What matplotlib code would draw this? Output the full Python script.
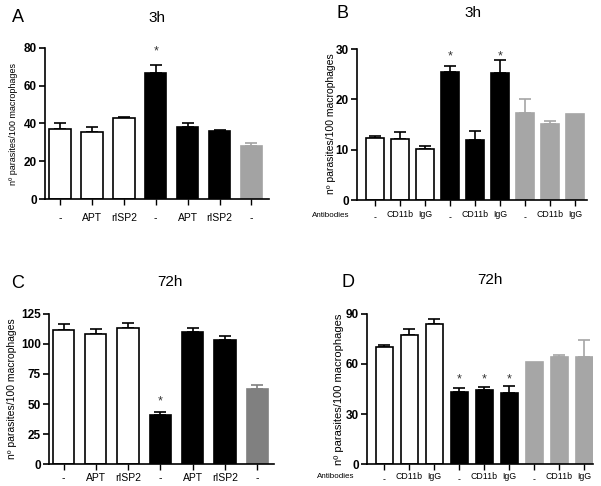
import matplotlib.pyplot as plt
import numpy as np

plt.rcParams['font.family'] = ['Liberation Sans', 'DejaVu Sans']

# Panel A: 3h, treatments
A_LABELS = ['-', 'APT', 'rISP2', '-', 'APT', 'rISP2', '-']
A_VALUES = [37, 35.5, 43, 67, 38, 36, 28]
A_ERR = [3.2, 2.6, 0.5, 4.0, 2.2, 0.5, 1.6]
A_COLORS = ['white', 'white', 'white', 'black', 'black', 'black', '#a3a3a3']
A_STARS = [3]

# Panel B: 3h, antibodies
B_LABELS = ['-', 'CD11b', 'IgG'] * 3
B_VALUES = [12.4, 12.2, 10.2, 25.5, 11.9, 25.3, 17.3, 15.1, 17.0]
B_ERR = [0.4, 1.4, 0.6, 1.1, 1.9, 2.5, 2.7, 0.5, 0.0]
B_COLORS = ['white'] * 3 + ['black'] * 3 + ['#a6a6a6'] * 3
B_STARS = [3, 5]

# Panel C: 72h, treatments
C_LABELS = ['-', 'APT', 'rISP2', '-', 'APT', 'rISP2', '-']
C_VALUES = [112, 108, 113.5, 41, 110, 103.5, 62.5]
C_ERR = [5, 4.5, 4, 2.5, 3.5, 3.5, 3]
C_COLORS = ['white', 'white', 'white', 'black', 'black', 'black', '#808080']
C_STARS = [3]

# Panel D: 72h, antibodies
D_LABELS = ['-', 'CD11b', 'IgG'] * 3
D_VALUES = [70, 77.5, 84, 43, 44.5, 42.5, 61, 64, 64.5]
D_ERR = [1.2, 3.5, 3, 2.5, 2, 4.5, 0, 1.5, 10]
D_COLORS = ['white'] * 3 + ['black'] * 3 + ['#a6a6a6'] * 3
D_STARS = [3, 4, 5]

YLABEL = 'nº parasites/100 macrophages'

fig = plt.figure(figsize=(6.01, 4.86), dpi=100)
W, H = 601, 486


def px_axes(l, t, r, b):
    return fig.add_axes([l / W, 1 - b / H, (r - l) / W, (b - t) / H])


def draw_panel(ax, labels, values, errs, colors, stars, ymax, step, xlim,
               width, star_y, xpad, antibodies=False):
    x = np.arange(len(values))
    for xi, v, e, c in zip(x, values, errs, colors):
        if c in ('white', 'black'):
            edge = 'black'
        else:
            edge = c
        ax.bar(xi, v, width, color=c, edgecolor=edge, linewidth=1.2, zorder=2)
        if e > 0:
            ax.errorbar(xi, v, yerr=[[0], [e]], fmt='none', ecolor=edge,
                        elinewidth=1.2, capsize=4, capthick=1.2, zorder=1)
    for s in stars:
        ax.text(x[s], star_y, '*', ha='center', va='center', fontsize=9,
                color='#333333')
    ax.set_xlim(*xlim)
    ax.set_ylim(0, ymax)
    ax.set_yticks(np.arange(0, ymax + 0.1, step))
    ax.spines['top'].set_visible(False)
    ax.spines['right'].set_visible(False)
    ax.spines['left'].set_linewidth(1.2)
    ax.spines['bottom'].set_linewidth(1.2)
    ax.tick_params(axis='y', labelsize=8.5, width=1.2, length=4, pad=2)
    for t in ax.get_yticklabels():
        t.set_fontweight('bold')
    ax.set_xticks(x)
    if antibodies:
        ax.set_xticklabels(labels, fontsize=6.3)
        ax.tick_params(axis='x', width=1.0, length=4, pad=xpad)
        for t, lab in zip(ax.get_xticklabels(), labels):
            if lab == '-':
                t.set_y(-0.02)
    else:
        ax.set_xticklabels(labels, fontsize=7.5)
        ax.tick_params(axis='x', width=1.0, length=4, pad=xpad)


axA = px_axes(45, 48, 269, 199)
draw_panel(axA, A_LABELS, A_VALUES, A_ERR, A_COLORS, A_STARS, 80, 20,
           (-0.47, 6.55), 0.67, 78, 6)
fig.text(13 / W, 1 - 124 / H, YLABEL, rotation=90, ha='center', va='center',
         fontsize=6.5)

axB = px_axes(357, 49, 587, 200)
draw_panel(axB, B_LABELS, B_VALUES, B_ERR, B_COLORS, B_STARS, 30, 10,
           (-0.72, 8.48), 0.72, 28.5, 3, antibodies=True)
fig.text(331 / W, 1 - 124 / H, YLABEL, rotation=90, ha='center', va='center',
         fontsize=7.5)
fig.text(312 / W, 1 - 215 / H, 'Antibodies', ha='left', va='center',
         fontsize=5.8)

axC = px_axes(49, 314, 274, 464)
draw_panel(axC, C_LABELS, C_VALUES, C_ERR, C_COLORS, C_STARS, 125, 25,
           (-0.45, 6.52), 0.66, 52, 2.5)
fig.text(12 / W, 1 - 389 / H, YLABEL, rotation=90, ha='center', va='center',
         fontsize=7.5)

axD = px_axes(367, 314, 593, 464)
draw_panel(axD, D_LABELS, D_VALUES, D_ERR, D_COLORS, D_STARS, 90, 30,
           (-0.68, 8.35), 0.68, 51, 2, antibodies=True)
fig.text(339 / W, 1 - 389 / H, YLABEL, rotation=90, ha='center', va='center',
         fontsize=8)
fig.text(317 / W, 1 - 476 / H, 'Antibodies', ha='left', va='center',
         fontsize=5.8)

# panel letters and titles
for letter, lx, ly in [('A', 18, 17), ('B', 342, 13), ('C', 18, 283), ('D', 348, 282)]:
    fig.text(lx / W, 1 - ly / H, letter, ha='center', va='center', fontsize=13)
for title, tx, ty in [('3h', 157, 18), ('3h', 473, 13), ('72h', 170, 282), ('72h', 490, 280)]:
    fig.text(tx / W, 1 - ty / H, title, ha='center', va='center', fontsize=11)

fig.savefig('out.png', dpi=100, facecolor='white')
